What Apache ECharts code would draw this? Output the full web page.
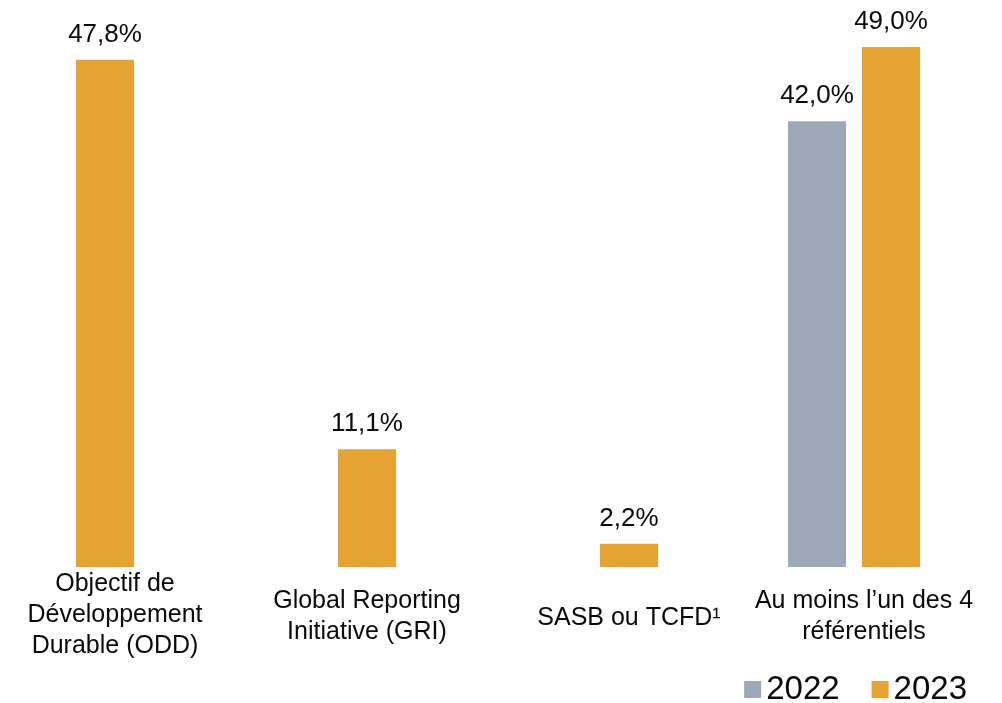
<!DOCTYPE html>
<html>
<head>
<meta charset="utf-8">
<script src="https://cdn.jsdelivr.net/npm/echarts@6/dist/echarts.min.js"></script>
<style>
  html, body { margin: 0; padding: 0; background: #fff; }
  #main { width: 1002px; height: 703px; }
</style>
</head>
<body>
<div id="main"></div>
<script>
// categories and values
const categories = [
  "Objectif de\nDéveloppement\nDurable (ODD)",
  "Global Reporting\nInitiative (GRI)",
  "SASB ou TCFD¹",
  "Au moins l’un des 4\nréférentiels"
];
const values2022 = [null, null, null, 42.0];
const values2023 = [47.8, 11.1, 2.2, 49.0];
const seriesNames = ["2022", "2023"];

const FONT = "Liberation Sans";
const fmt = (p) => p.value == null ? "" : p.value.toFixed(1).replace(".", ",") + "%";

const chart = echarts.init(document.getElementById("main"));
// small nudges so the category labels sit like the original (top, right, bottom, left)
const labelShift = [[0, 0, 0, 20], [17, 0, 0, 0], [34, 0, 0, 0], [17, 54, 0, 0]];

const valueLabel = {
  show: true,
  position: "top",
  distance: 12,
  fontSize: 26,
  color: "#0a0a0a",
  fontFamily: FONT,
  formatter: fmt
};

const option = {
  backgroundColor: "#fff",
  textStyle: { fontFamily: FONT },
  legend: {
    data: seriesNames,
    right: 30,
    top: 668,
    icon: "rect",
    itemWidth: 17,
    itemHeight: 17,
    itemGap: 32,
    itemStyle: { borderWidth: 0 },
    textStyle: { fontSize: 33, color: "#0a0a0a", fontFamily: FONT }
  },
  grid: [
    // main grid (2023 + category labels)
    { left: 105, right: 111, top: 36.4, bottom: 136, outerBoundsMode: "none" },
    // same grid moved left for the 2022 bar
    { left: 31, right: 185, top: 36.4, bottom: 136, outerBoundsMode: "none" }
  ],
  xAxis: [
    {
      type: "category",
      gridIndex: 0,
      boundaryGap: false,
      data: categories.map((c, i) => ({
        value: c,
        textStyle: { padding: labelShift[i] }
      })),
      axisLine: { show: false },
      axisTick: { show: false },
      axisLabel: {
        interval: 0,
        margin: 2,
        fontSize: 25,
        lineHeight: 31,
        color: "#0a0a0a",
        fontFamily: FONT
      }
    },
    {
      type: "category",
      gridIndex: 1,
      boundaryGap: false,
      data: categories,
      show: false
    }
  ],
  yAxis: [
    { type: "value", gridIndex: 0, min: 0, max: 50, show: false },
    { type: "value", gridIndex: 1, min: 0, max: 50, show: false }
  ],
  series: [
    {
      name: "2022",
      type: "bar",
      xAxisIndex: 1,
      yAxisIndex: 1,
      barWidth: 58,
      clip: false,
      itemStyle: { color: "#9CA8B7" },
      label: valueLabel,
      data: values2022
    },
    {
      name: "2023",
      type: "bar",
      xAxisIndex: 0,
      yAxisIndex: 0,
      barWidth: 58,
      clip: false,
      itemStyle: { color: "#E6A232" },
      label: valueLabel,
      data: values2023
    }
  ]
};
chart.setOption(option);
</script>
</body>
</html>
